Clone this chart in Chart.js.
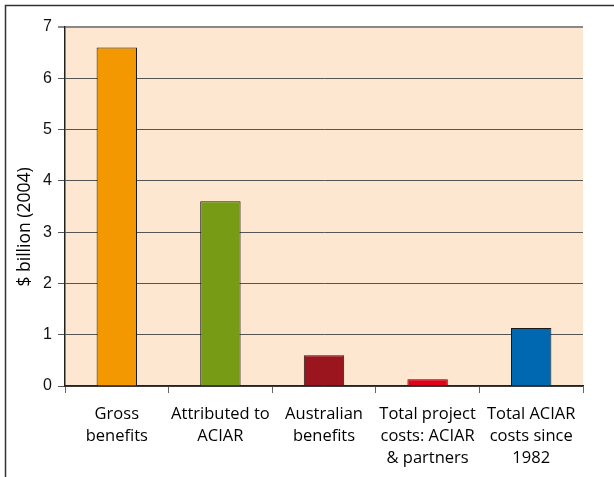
<!DOCTYPE html>
<html>
<head>
<meta charset="utf-8">
<script src="https://cdn.jsdelivr.net/npm/chart.js@4"></script>
<style>
  html, body { margin: 0; padding: 0; background: #fff; }
  #wrap { width: 614px; height: 477px; }
</style>
</head>
<body>
<div id="wrap"><canvas id="benefits"></canvas></div>
<script>
const categories = [
    ["Gross", "benefits"],
    ["Attributed to", "ACIAR"],
    ["Australian", "benefits"],
    ["Total project", "costs: ACIAR", "& partners"],
    ["Total ACIAR", "costs since", "1982"],
];
const values = [6.6, 3.6, 0.6, 0.13, 1.13];
const barColors = ["#F39800", "#789B16", "#9B151E", "#E2001A", "#0068B0"];
const yTicks = [0, 1, 2, 3, 4, 5, 6, 7];

// peach plot background + the frame lines at top/left of the figure
const backdrop = {
    id: 'backdrop',
    beforeDraw(chart) {
        const { ctx, chartArea: a } = chart;
        ctx.save();
        ctx.fillStyle = '#FDE7D0';
        ctx.fillRect(a.left, a.top, a.right - a.left, a.bottom - a.top);
        ctx.strokeStyle = '#333';
        ctx.lineWidth = 1.5;
        ctx.beginPath();
        ctx.moveTo(614, 5.5);
        ctx.lineTo(5.5, 5.5);
        ctx.lineTo(5.5, 477);
        ctx.stroke();
        ctx.restore();
    }
};

new Chart(document.querySelector('#benefits'), {
    type: 'bar',
    data: {
        labels: categories,
        datasets: [{
            data: values,
            backgroundColor: barColors,
            borderColor: '#1a1a1a',
            borderWidth: 1,
            barPercentage: 0.39,
            categoryPercentage: 1,
        }]
    },
    options: {
        responsive: true,
        maintainAspectRatio: false,
        animation: false,
        layout: { padding: { left: 0, top: 27, right: 31, bottom: 0 } },
        plugins: {
            legend: { display: false },
            tooltip: { enabled: false },
        },
        scales: {
            x: {
                afterFit: (scale) => { scale.height = 91; },
                grid: {
                    offset: true,
                    drawOnChartArea: false,
                    tickLength: 7,
                    color: '#666',
                },
                border: { color: '#222', width: 1.5 },
                ticks: {
                    color: '#000',
                    padding: 10,
                    maxRotation: 0,
                    font: { family: 'Open Sans', size: 16.5, lineHeight: '22px' },
                },
            },
            y: {
                min: 0,
                max: 7,
                afterFit: (scale) => { scale.width = 65; },
                afterBuildTicks: (scale) => { scale.ticks = yTicks.map(v => ({ value: v })); },
                grid: {
                    color: (c) => c.tick && c.tick.value === 7 ? '#888' : '#555',
                    lineWidth: (c) => c.tick && c.tick.value === 7 ? 2 : 1,
                    tickLength: 7,
                },
                border: { color: '#222', width: 1.5 },
                ticks: {
                    color: '#111',
                    padding: 6,
                    font: { family: 'Liberation Sans', size: 16 },
                },
                title: {
                    display: true,
                    // trailing spaces nudge the rotated title down, as in the original
                    text: '$ billion (2004)         ',
                    color: '#000',
                    padding: { top: 15, bottom: 0 },
                    font: { family: 'Open Sans', size: 17.5 },
                },
            },
        },
    },
    plugins: [backdrop],
});
</script>
</body>
</html>
